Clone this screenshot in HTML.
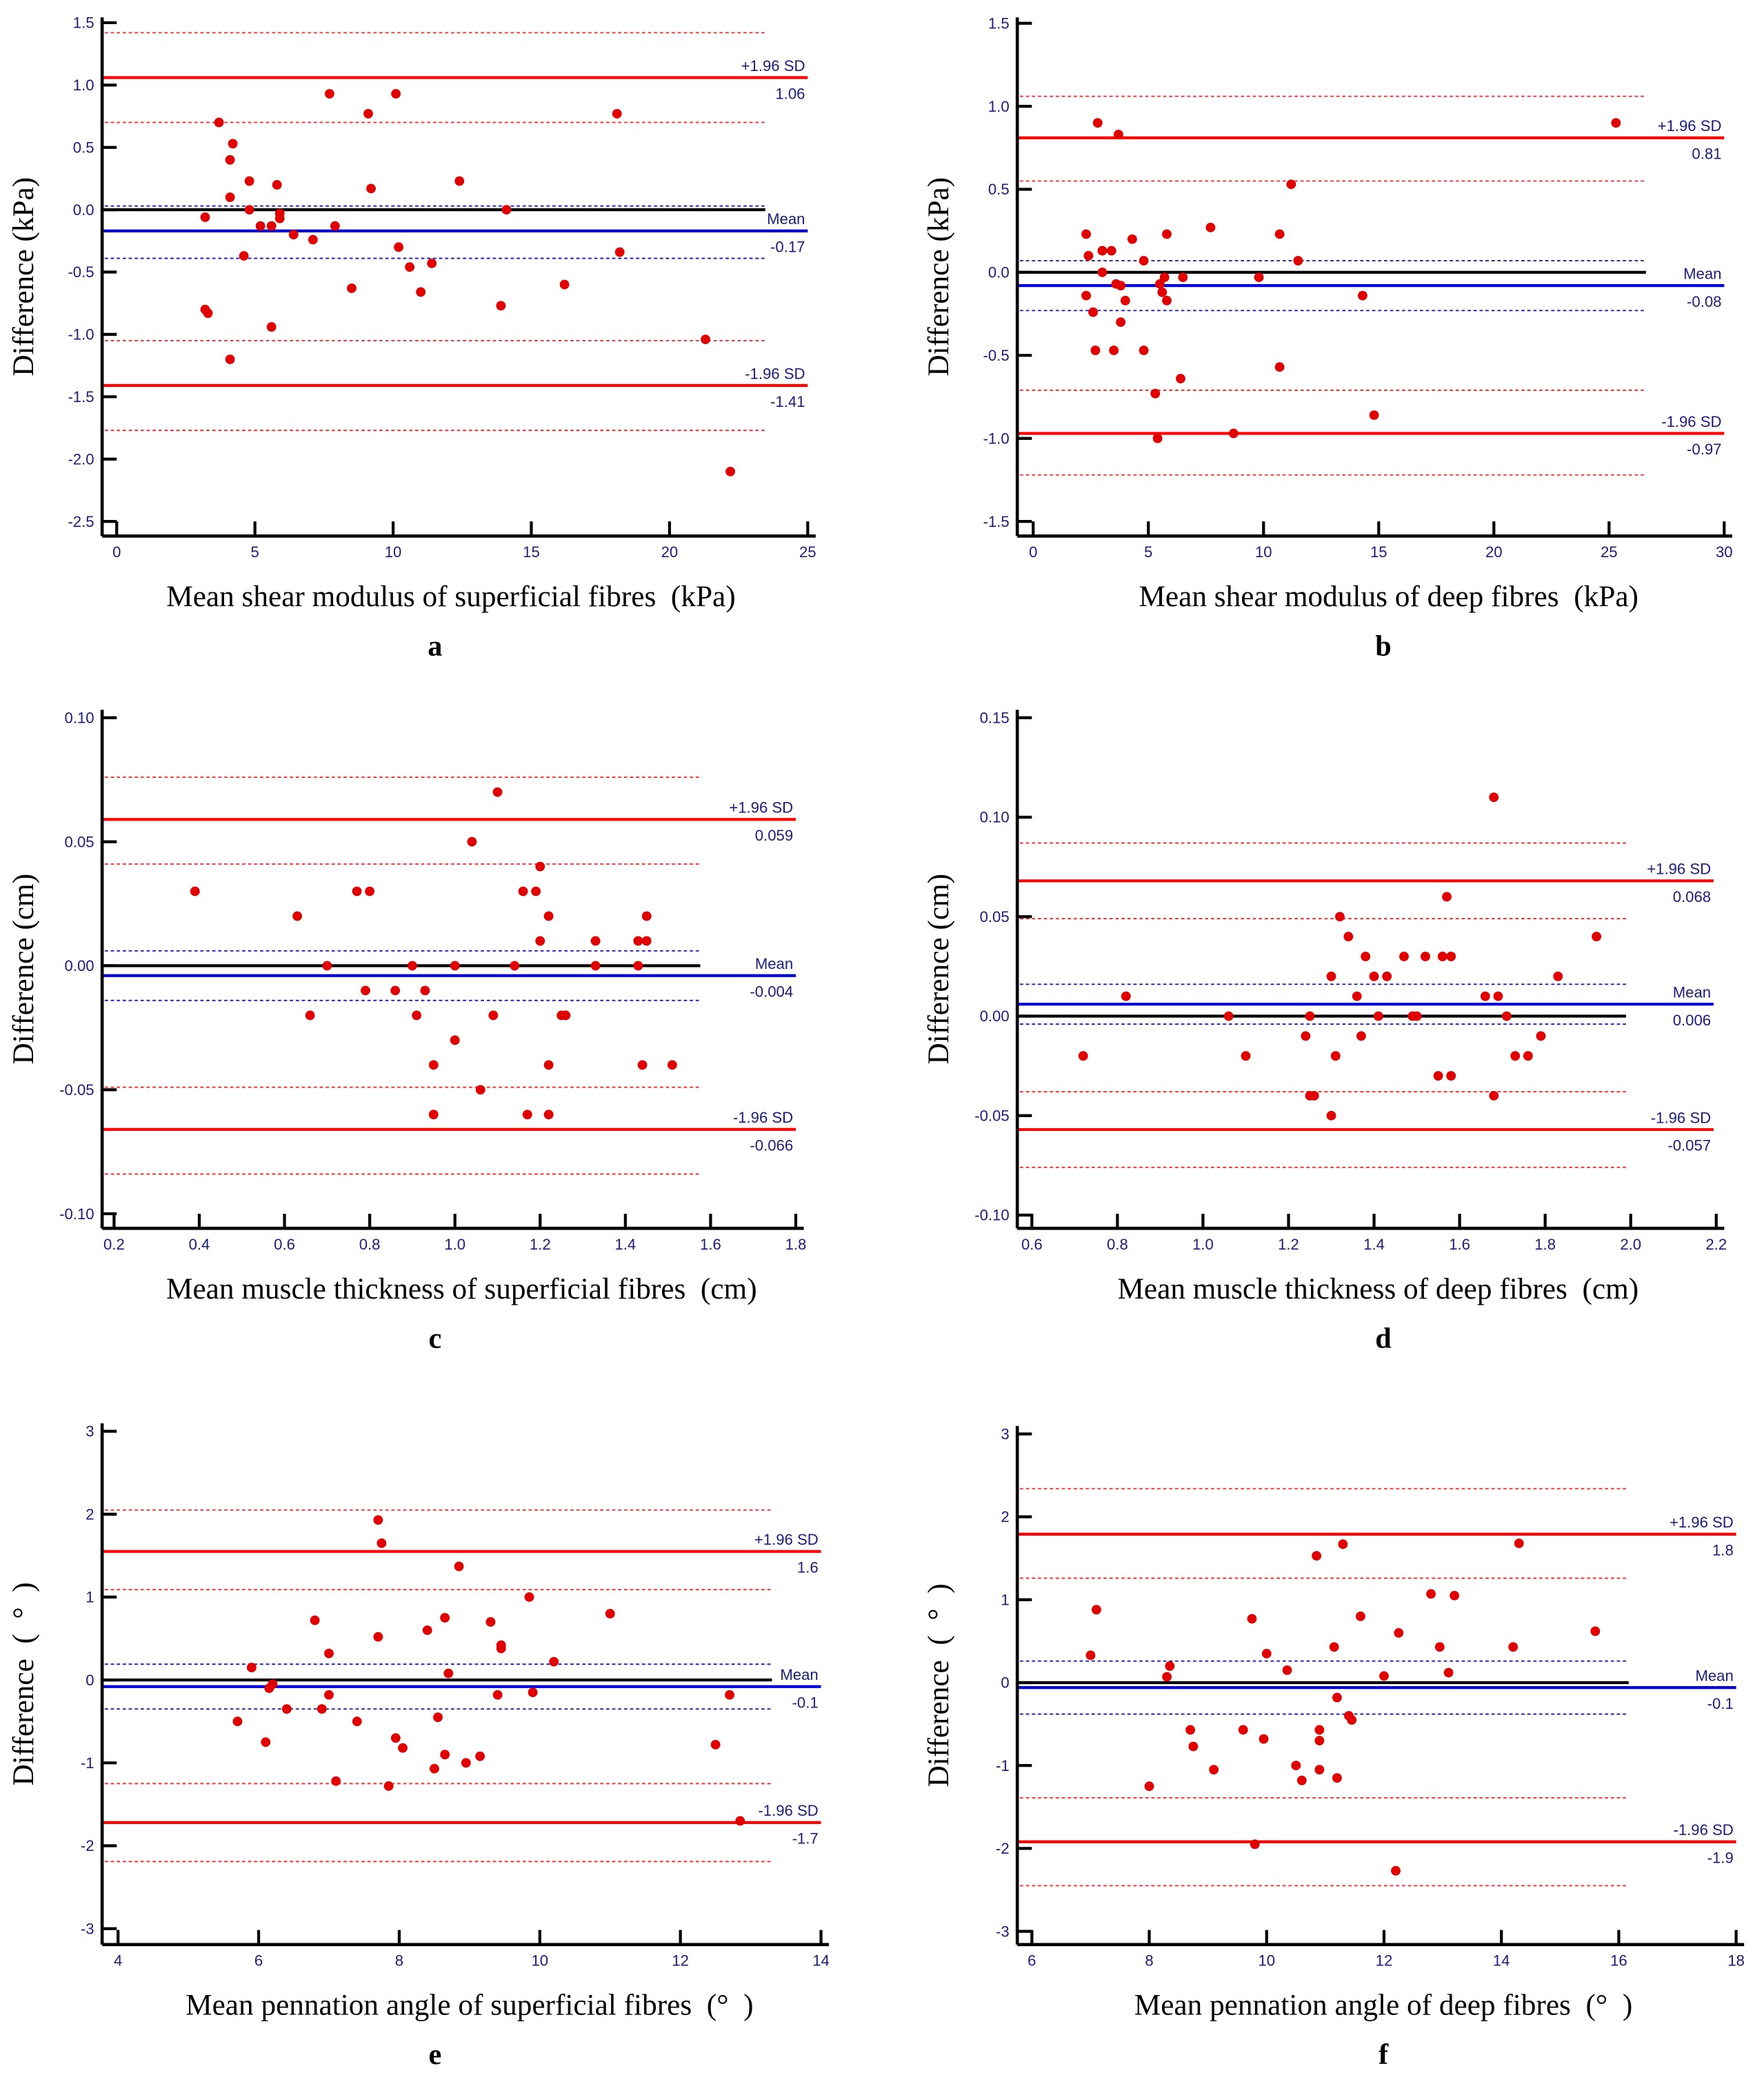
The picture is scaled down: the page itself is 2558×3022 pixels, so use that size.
<!DOCTYPE html>
<html><head><meta charset="utf-8"><style>
html,body{margin:0;padding:0;background:#fff}
svg{display:block}
.pre{white-space:pre}
</style></head><body>
<svg id="fig" width="2558" height="3022" viewBox="0 0 1330 1571" xmlns="http://www.w3.org/2000/svg"></svg>
<script>
// ---------- data ----------
const aMeanX=[3.2,3.2,3.3,3.7,4.1,4.1,4.2,4.1,4.6,4.8,4.8,5.2,5.6,5.6,5.8,5.9,5.9,6.4,7.1,7.7,7.9,8.5,9.1,9.2,10.1,10.2,10.6,11.0,11.4,12.4,13.9,14.1,16.2,18.1,18.2,21.3,22.2];
const aDiff=[-0.06,-0.8,-0.83,0.7,0.4,0.1,0.53,-1.2,-0.37,0.23,0,-0.13,-0.13,-0.94,0.2,-0.03,-0.07,-0.2,-0.24,0.93,-0.13,-0.63,0.77,0.17,0.93,-0.3,-0.46,-0.66,-0.43,0.23,-0.77,0,-0.6,0.77,-0.34,-1.04,-2.1];
const aLimits=[1.06,-0.17,-1.41];
const aLimitLabels=["1.06","-0.17","-1.41"];
const aRedCI=[1.42,0.70,-1.05,-1.77];
const aBlueCI=[0.03,-0.39];
const aXTicks=[0,5,10,15,20,25];
const aYTicks=[1.5,1.0,0.5,0.0,-0.5,-1.0,-1.5,-2.0,-2.5];

const bMeanX=[2.8,3.7,25.3,11.2,2.3,2.4,3.0,3.4,3.0,4.3,4.8,5.8,7.7,10.7,11.5,3.6,3.8,4.0,2.3,2.6,3.8,2.7,3.5,4.8,5.5,5.6,5.7,5.8,6.5,9.8,14.3,6.4,5.3,10.7,5.4,8.7,14.8];
const bDiff=[0.9,0.83,0.9,0.53,0.23,0.1,0.13,0.13,0,0.2,0.07,0.23,0.27,0.23,0.07,-0.07,-0.08,-0.17,-0.14,-0.24,-0.3,-0.47,-0.47,-0.47,-0.07,-0.12,-0.03,-0.17,-0.03,-0.03,-0.14,-0.64,-0.73,-0.57,-1.0,-0.97,-0.86];
const bLimits=[0.81,-0.08,-0.97];
const bLimitLabels=["0.81","-0.08","-0.97"];
const bRedCI=[1.06,0.55,-0.71,-1.22];
const bBlueCI=[0.07,-0.23];
const bXTicks=[0,5,10,15,20,25,30];
const bYTicks=[1.5,1.0,0.5,0.0,-0.5,-1.0,-1.5];

const cMeanX=[0.39,0.63,0.66,0.70,0.77,0.80,0.79,0.86,0.90,0.91,0.93,0.95,0.95,1.0,1.0,1.04,1.06,1.09,1.10,1.14,1.16,1.17,1.19,1.20,1.20,1.22,1.22,1.22,1.25,1.26,1.33,1.33,1.43,1.43,1.44,1.45,1.45,1.51];
const cDiff=[0.03,0.02,-0.02,0,0.03,0.03,-0.01,-0.01,0,-0.02,-0.01,-0.04,-0.06,0,-0.03,0.05,-0.05,-0.02,0.07,0,0.03,-0.06,0.03,0.04,0.01,0.02,-0.04,-0.06,-0.02,-0.02,0.01,0,0.01,0,-0.04,0.02,0.01,-0.04];
const cLimits=[0.059,-0.004,-0.066];
const cLimitLabels=["0.059","-0.004","-0.066"];
const cRedCI=[0.076,0.041,-0.049,-0.084];
const cBlueCI=[0.006,-0.014];
const cXTicks=[0.2,0.4,0.6,0.8,1.0,1.2,1.4,1.6,1.8];
const cYTicks=[0.10,0.05,0.00,-0.05,-0.10];

const dMeanX=[0.72,0.82,1.06,1.10,1.24,1.25,1.25,1.26,1.30,1.31,1.30,1.32,1.34,1.36,1.38,1.37,1.40,1.41,1.43,1.47,1.49,1.50,1.52,1.55,1.56,1.57,1.58,1.58,1.66,1.68,1.68,1.69,1.71,1.73,1.76,1.79,1.83,1.92];
const dDiff=[-0.02,0.01,0,-0.02,-0.01,0,-0.04,-0.04,0.02,-0.02,-0.05,0.05,0.04,0.01,0.03,-0.01,0.02,0,0.02,0.03,0,0,0.03,-0.03,0.03,0.06,0.03,-0.03,0.01,0.11,-0.04,0.01,0,-0.02,-0.02,-0.01,0.02,0.04];
const dLimits=[0.068,0.006,-0.057];
const dLimitLabels=["0.068","0.006","-0.057"];
const dRedCI=[0.087,0.049,-0.038,-0.076];
const dBlueCI=[0.016,-0.004];
const dXTicks=[0.6,0.8,1.0,1.2,1.4,1.6,1.8,2.0,2.2];
const dYTicks=[0.15,0.10,0.05,0.00,-0.05,-0.10];

const eMeanX=[5.7,5.9,6.1,6.15,6.2,6.4,6.8,6.9,7.0,7.0,7.1,7.4,7.7,7.7,7.75,7.85,7.95,8.05,8.4,8.5,8.55,8.65,8.7,8.65,8.85,8.95,9.15,9.3,9.4,9.45,9.45,9.85,9.9,10.2,11.0,12.5,12.7,12.85];
const eDiff=[-0.5,0.15,-0.75,-0.1,-0.05,-0.35,0.72,-0.35,0.32,-0.18,-1.22,-0.5,1.93,0.52,1.65,-1.28,-0.7,-0.82,0.6,-1.07,-0.45,0.75,0.08,-0.9,1.37,-1.0,-0.92,0.7,-0.18,0.42,0.38,1.0,-0.15,0.22,0.8,-0.78,-0.18,-1.7];
const eLimits=[1.55,-0.08,-1.72];
const eLimitLabels=["1.6","-0.1","-1.7"];
const eRedCI=[2.05,1.09,-1.25,-2.19];
const eBlueCI=[0.19,-0.35];
const eXTicks=[4,6,8,10,12,14];
const eYTicks=[3,2,1,0,-1,-2,-3];

const fMeanX=[7.0,7.1,8.0,8.3,8.35,8.7,8.75,9.1,9.6,9.75,9.8,9.95,10.0,10.35,10.5,10.6,10.85,10.9,10.9,10.9,11.15,11.2,11.2,11.3,11.4,11.45,11.6,12.0,12.2,12.25,12.8,12.95,13.1,13.2,14.2,14.3,15.6];
const fDiff=[0.33,0.88,-1.25,0.07,0.2,-0.57,-0.77,-1.05,-0.57,0.77,-1.95,-0.68,0.35,0.15,-1.0,-1.18,1.53,-0.57,-0.7,-1.05,0.43,-0.18,-1.15,1.67,-0.4,-0.45,0.8,0.08,-2.27,0.6,1.07,0.43,0.12,1.05,0.43,1.68,0.62];
const fLimits=[1.79,-0.06,-1.92];
const fLimitLabels=["1.8","-0.1","-1.9"];
const fRedCI=[2.34,1.26,-1.39,-2.45];
const fBlueCI=[0.26,-0.38];
const fXTicks=[6,8,10,12,14,16,18];
const fYTicks=[3,2,1,0,-1,-2,-3];

// ---------- rendering ----------
const NS="http://www.w3.org/2000/svg";
const svg=document.getElementById('fig');
function mk(tag,attrs,parent){const e=document.createElementNS(NS,tag);for(const k in attrs)e.setAttribute(k,attrs[k]);(parent||svg).appendChild(e);return e;}
const NAVY="#1c1c7a";
function fmt(v,dec){return v.toFixed(dec);}

function panel(id,geo,mx,dy,lim,limLab,red,blue,xt,yt,dec,xdec,xTitle,yTitle,letter){
  const g=mk('g',{});
  
  
  const X=v=>geo.px0+(v-geo.x0)*(geo.px1-geo.px0)/(geo.x1-geo.x0);
  const Y=v=>geo.py0+(v-geo.y0)*(geo.py1-geo.py0)/(geo.y1-geo.y0);
  red.forEach(v=>{const l=mk('line',{x1:geo.ax+2,x2:geo.dotEnd,y1:Y(v),y2:Y(v),stroke:'#e33',"stroke-width":1,"stroke-dasharray":'2.5,2'},g);
    });
  blue.forEach(v=>{const l=mk('line',{x1:geo.ax+2,x2:geo.dotEnd,y1:Y(v),y2:Y(v),stroke:'#22a',"stroke-width":1,"stroke-dasharray":'2.5,2'},g);
    });
  const z=mk('line',{x1:geo.ax,x2:geo.dotEnd,y1:Y(0),y2:Y(0),stroke:'#000',"stroke-width":2.2},g);
  
  const names=['upper-limit-line','mean-line','lower-limit-line'];
  const tops=['+1.96 SD','Mean','-1.96 SD'];
  lim.forEach((v,i)=>{
    const l=mk('line',{x1:geo.ax,x2:geo.lineEnd,y1:Y(v),y2:Y(v),stroke:i==1?'#0000dd':'#f00',"stroke-width":2.2},g);
    
    const t1=mk('text',{x:geo.lineEnd-2,y:Y(v)-5,"text-anchor":'end',"font-family":'Liberation Sans, sans-serif',"font-size":11.5,fill:NAVY},g);
    t1.textContent=tops[i];
    const t2=mk('text',{x:geo.lineEnd-2,y:Y(v)+16,"text-anchor":'end',"font-family":'Liberation Sans, sans-serif',"font-size":11.5,fill:NAVY},g);
    t2.textContent=limLab[i];
  });
  mx.forEach((v,i)=>{const c=mk('circle',{cx:X(v),cy:Y(dy[i]),r:3.6,fill:'#e00000'},g);
    });
  const ya=mk('line',{x1:geo.ax,x2:geo.ax,y1:geo.axTop,y2:geo.axB,stroke:'#000',"stroke-width":2.4},g);
  
  const xa=mk('line',{x1:geo.ax,x2:geo.px1+6,y1:geo.axB,y2:geo.axB,stroke:'#000',"stroke-width":2.4},g);
  
  yt.forEach(v=>{mk('line',{x1:geo.ax,x2:geo.ax+11,y1:Y(v),y2:Y(v),stroke:'#000',"stroke-width":2.2},g);
    const t=mk('text',{x:geo.ax-6,y:Y(v)+4,"text-anchor":'end',"font-family":'Liberation Sans, sans-serif',"font-size":11.5,fill:NAVY},g);
    t.textContent=fmt(v,dec);});
  xt.forEach(v=>{mk('line',{x1:X(v),x2:X(v),y1:geo.axB,y2:geo.axB-11,stroke:'#000',"stroke-width":2.2},g);
    const t=mk('text',{x:X(v),y:geo.axB+16,"text-anchor":'middle',"font-family":'Liberation Sans, sans-serif',"font-size":11.5,fill:NAVY},g);
    t.textContent=fmt(v,xdec);});
  const xtl=mk('text',{x:geo.xtx,y:geo.axB+53,"text-anchor":'middle',"font-family":'Liberation Serif, serif',"font-size":22.5,fill:'#000',"class":'pre'},g);
  xtl.textContent=xTitle;
  const cy=(geo.axTop+geo.axB)/2;
  const ytl=mk('text',{x:geo.ax-52,y:cy,"text-anchor":'middle',"font-family":'Liberation Serif, serif',"font-size":22.5,fill:'#000',"class":'pre',transform:'rotate(-90 '+(geo.ax-52)+' '+cy+')'},g);
  ytl.textContent=yTitle;
  const lt=mk('text',{x:geo.lx,y:geo.axB+90,"text-anchor":'middle',"font-family":'Liberation Serif, serif',"font-size":22,"font-weight":'bold',fill:'#000'},g);
  lt.textContent=letter;
}

panel('a',{x0:0,x1:25,px0:88,px1:609,y0:1.0,y1:-2.5,py0:64,py1:393,ax:77,axTop:13,axB:404,lineEnd:609,dotEnd:577,xtx:340,lx:328},
  aMeanX,aDiff,aLimits,aLimitLabels,aRedCI,aBlueCI,aXTicks,aYTicks,1,0,'Mean shear modulus of superficial fibres  (kPa)','Difference (kPa)','a');
panel('b',{x0:0,x1:30,px0:779,px1:1300,y0:1.0,y1:-1.5,py0:80,py1:393,ax:767,axTop:13,axB:404,lineEnd:1300,dotEnd:1241,xtx:1047,lx:1043},
  bMeanX,bDiff,bLimits,bLimitLabels,bRedCI,bBlueCI,bXTicks,bYTicks,1,0,'Mean shear modulus of deep fibres  (kPa)','Difference (kPa)','b');
panel('c',{x0:0.2,x1:1.8,px0:86,px1:600,y0:0.10,y1:-0.10,py0:541,py1:915,ax:77,axTop:535,axB:926,lineEnd:600,dotEnd:528,xtx:348,lx:328},
  cMeanX,cDiff,cLimits,cLimitLabels,cRedCI,cBlueCI,cXTicks,cYTicks,2,1,'Mean muscle thickness of superficial fibres  (cm)','Difference (cm)','c');
panel('d',{x0:0.6,x1:2.2,px0:778,px1:1294,y0:0.15,y1:-0.10,py0:541,py1:916,ax:767,axTop:535,axB:926,lineEnd:1292,dotEnd:1226,xtx:1039,lx:1043},
  dMeanX,dDiff,dLimits,dLimitLabels,dRedCI,dBlueCI,dXTicks,dYTicks,2,1,'Mean muscle thickness of deep fibres  (cm)','Difference (cm)','d');
panel('e',{x0:4,x1:14,px0:89,px1:619,y0:3,y1:-3,py0:1079,py1:1454,ax:77,axTop:1073,axB:1466,lineEnd:619,dotEnd:582,xtx:354,lx:328},
  eMeanX,eDiff,eLimits,eLimitLabels,eRedCI,eBlueCI,eXTicks,eYTicks,0,0,'Mean pennation angle of superficial fibres  (°  )','Difference  (  °  )','e');
panel('f',{x0:6,x1:18,px0:778,px1:1309,y0:3,y1:-3,py0:1081,py1:1456,ax:767,axTop:1075,axB:1466,lineEnd:1309,dotEnd:1228,xtx:1043,lx:1043},
  fMeanX,fDiff,fLimits,fLimitLabels,fRedCI,fBlueCI,fXTicks,fYTicks,0,0,'Mean pennation angle of deep fibres  (°  )','Difference  (  °  )','f');
</script>
</body></html>
